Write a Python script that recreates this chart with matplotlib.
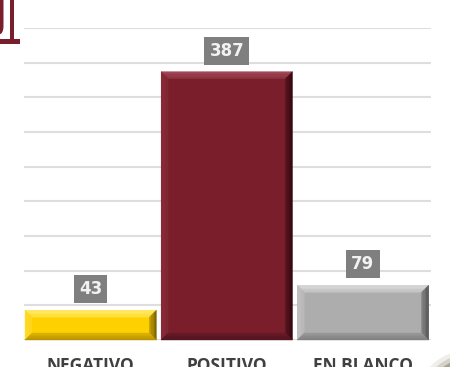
import matplotlib
matplotlib.use("Agg")
import matplotlib.pyplot as plt
from matplotlib.patches import Polygon, Rectangle, Wedge
from matplotlib.transforms import IdentityTransform
from matplotlib.colors import to_rgb
import numpy as np

categories = ["NEGATIVO", "POSITIVO", "EN BLANCO"]
values = [43, 387, 79]
y_ticks = list(range(0, 451, 50))

face_colors = ["#FFD000", "#7B1E2C", "#ADADAD"]
# top, left, right, bottom bevel shades for each bar
bevel_colors = [
    ("#FFEC70", "#FFDB30", "#806600", "#B89200"),
    ("#A24858", "#8A2D3B", "#320810", "#521420"),
    ("#DCDCDC", "#C4C4C4", "#555555", "#808080"),
]

W, H, DPI = 450, 367, 100
fig = plt.figure(figsize=(W / DPI, H / DPI), dpi=DPI)
fig.patch.set_facecolor("white")

ax_left, ax_right, ax_top, ax_bottom = 24, 431, 28, 340
ax = fig.add_axes([ax_left / W, (H - ax_bottom) / H,
                   (ax_right - ax_left) / W, (ax_bottom - ax_top) / H])
ax.set_xlim(-0.49, 2.5)
ax.set_ylim(0, 450)
for s in ax.spines.values():
    s.set_visible(False)
ax.set_yticks(y_ticks)
ax.set_yticklabels([])
ax.yaxis.grid(True, color="#DEDEDE", linewidth=1.5)
ax.set_axisbelow(True)
ax.tick_params(axis="both", length=0)

x = np.arange(len(categories))
bars = ax.bar(x, values, width=0.965, color=face_colors, zorder=2)

ax.set_xticks(x)
ax.set_xticklabels(categories, fontfamily="Open Sans", fontweight="bold",
                   fontsize=12.5, color="#404040")
ax.tick_params(axis="x", pad=12.5)


def mix(c1, c2, f):
    a, b_ = np.array(to_rgb(c1)), np.array(to_rgb(c2))
    return tuple(a * (1 - f) + b_ * f)


# bevelled faces with a soft gradient, computed from each bar's pixel extent
fig.canvas.draw()
b = 7
steps = 5
for bar, face, (ctop, cleft, cright, cbot) in zip(bars, face_colors, bevel_colors):
    (x0, y0), (x1, y1) = ax.transData.transform(
        [(bar.get_x(), 0), (bar.get_x() + bar.get_width(), bar.get_height())])
    for k in range(steps):
        d0, d1 = b * k / steps, b * (k + 1) / steps
        f = k / steps * 0.6
        faces = [
            ([(x0 + d0, y1 - d0), (x1 - d0, y1 - d0), (x1 - d1, y1 - d1), (x0 + d1, y1 - d1)], mix(ctop, face, f)),
            ([(x0 + d0, y0 + d0), (x0 + d0, y1 - d0), (x0 + d1, y1 - d1), (x0 + d1, y0 + d1)], mix(cleft, face, f)),
            ([(x1 - d0, y0 + d0), (x1 - d0, y1 - d0), (x1 - d1, y1 - d1), (x1 - d1, y0 + d1)], mix(cright, face, f)),
            ([(x0 + d0, y0 + d0), (x1 - d0, y0 + d0), (x1 - d1, y0 + d1), (x0 + d1, y0 + d1)], mix(cbot, face, f)),
        ]
        for verts, col in faces:
            fig.patches.append(Polygon(verts, closed=True, facecolor=col,
                                       edgecolor=col, linewidth=0.3,
                                       transform=IdentityTransform(),
                                       figure=fig, zorder=3))

for xi, v in zip(x, values):
    ax.annotate(str(v), xy=(xi, v), xytext=(0, 8.5), textcoords="offset points",
                ha="center", va="bottom", fontsize=12, fontweight="bold",
                color="#F2F2F2", zorder=5,
                bbox=dict(boxstyle="square,pad=0.3", facecolor="#7F7F7F",
                          edgecolor="none"))

# emblem fragment in the upper-left corner
maroon = "#7B1E2C"
def fig_rect(px0, py0, px1, py1, color):
    fig.patches.append(Rectangle((px0 / W, 1 - py1 / H), (px1 - px0) / W,
                                 (py1 - py0) / H, transform=fig.transFigure,
                                 facecolor=color, edgecolor="none", figure=fig))
fig_rect(10, 0, 14, 41, maroon)
fig_rect(0, 39, 20, 44, maroon)
t = np.linspace(0, np.pi / 2, 20)
curve = [(0, 1), (3.5 / W, 1)] + [(3.5 * np.cos(tt) / W, 1 - (26 + 8 * np.sin(tt)) / H) for tt in t]
fig.patches.append(Polygon(curve, closed=True, transform=fig.transFigure,
                           facecolor=maroon, edgecolor="none", figure=fig))

# decorative swoosh in the lower-right corner
cx, cy = 472 / W, 1 - 392 / H
for r, col in [(52, "#EFEEEB"), (47, "#D6D2CA"), (42, "#A9A396"), (36, "#C8A45A")]:
    fig.patches.append(Wedge((cx, cy), r / W, 95, 178, transform=fig.transFigure,
                             facecolor=col, edgecolor="none", figure=fig))

fig.savefig("out.png", dpi=DPI, facecolor="white")
